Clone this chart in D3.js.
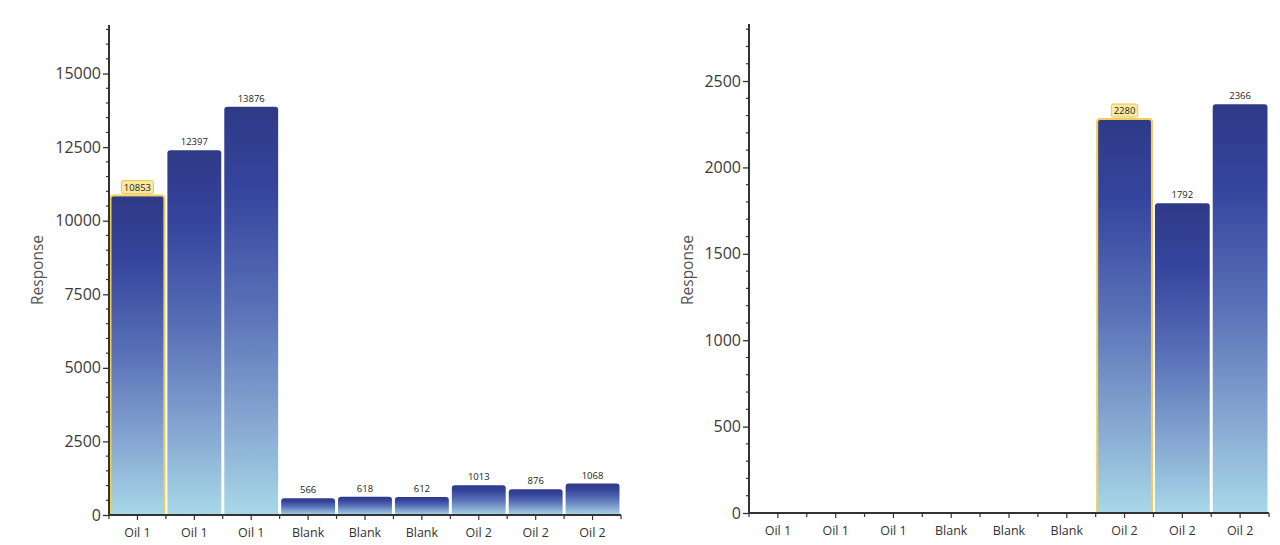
<!DOCTYPE html>
<html>
<head>
<meta charset="utf-8">
<script src="https://cdn.jsdelivr.net/npm/d3@7"></script>
<style>
  html, body { margin: 0; padding: 0; background: #fff; }
  svg { display: block; font-family: "Open Sans", "Noto Sans", sans-serif; }
</style>
</head>
<body>
<svg id="chart" width="1280" height="545"></svg>
<script>
// ---- data ----
const categories = ["Oil 1", "Oil 1", "Oil 1", "Blank", "Blank", "Blank", "Oil 2", "Oil 2", "Oil 2"];
const leftValues = [10853, 12397, 13876, 566, 618, 612, 1013, 876, 1068];
const rightValues = [null, null, null, null, null, null, 2280, 1792, 2366];
const leftTicks = [0, 2500, 5000, 7500, 10000, 12500, 15000];
const rightTicks = [0, 500, 1000, 1500, 2000, 2500];
const leftHighlight = 0;
const rightHighlight = 6;
const yTitle = "Response";

const svg = d3.select("#chart");
const defs = svg.append("defs");
const grad = defs.append("linearGradient")
  .attr("id", "barGrad").attr("x1", 0).attr("y1", 0).attr("x2", 0).attr("y2", 1);
[[0, "#2f3a86"], [0.2, "#35449d"], [0.5, "#5a72b8"], [0.78, "#87a9d2"], [1, "#a8d8e8"]]
  .forEach(([o, c]) => grad.append("stop").attr("offset", o).attr("stop-color", c));

function panel(cfg) {
  const g = svg.append("g");
  const x = d3.scaleBand().domain(d3.range(categories.length)).range([cfg.x0, cfg.x1]).padding(0);
  const y = d3.scaleLinear().domain([0, cfg.max]).range([cfg.y0, cfg.yTop]);

  // bars
  const data = cfg.values.map((v, i) => ({ v, i })).filter(d => d.v != null);
  const bars = g.append("g");
  data.forEach(d => {
    const bx = x(d.i) + 1.5, bw = x.bandwidth() - 3;
    const by = y(d.v), bh = y(0) - y(d.v);
    const r = Math.min(3, bh / 2);
    const p = `M${bx},${y(0)} V${by + r} Q${bx},${by} ${bx + r},${by} H${bx + bw - r} Q${bx + bw},${by} ${bx + bw},${by + r} V${y(0)} Z`;
    bars.append("path").attr("d", p).attr("fill", "url(#barGrad)")
      .attr("stroke", d.i === cfg.highlight ? "#f0cc5a" : "none")
      .attr("stroke-width", d.i === cfg.highlight ? 2 : 0);
  });

  // value labels
  data.forEach(d => {
    const cx = x(d.i) + x.bandwidth() / 2;
    const ty = y(d.v) - 5;
    if (d.i === cfg.highlight) {
      const w = String(d.v).length * 5.6 + 4;
      g.append("rect").attr("x", cx - w / 2).attr("y", ty - 10).attr("width", w).attr("height", 13)
        .attr("rx", 2).attr("fill", "#fbe9a0").attr("stroke", "#e9c55a").attr("stroke-width", 1);
    }
    g.append("text").attr("x", cx).attr("y", ty).attr("text-anchor", "middle")
      .attr("font-size", 9.5).attr("fill", "#222").text(d.v);
  });

  // y axis
  const yAxis = d3.axisLeft(y).tickValues(cfg.ticks).tickFormat(d3.format("d")).tickSize(6).tickPadding(2);
  const ya = g.append("g").attr("transform", `translate(${cfg.x0},0)`).call(yAxis);
  ya.select(".domain").remove();
  ya.selectAll(".tick line").attr("stroke", "#333").attr("stroke-width", 1.3);
  ya.selectAll(".tick text").attr("font-size", 16).attr("fill", "#3a3a3a")
    .attr("font-family", "'Open Sans', sans-serif");
  const minor = d3.range(0, cfg.max, cfg.minorStep).filter(v => !cfg.ticks.includes(v));
  g.append("g").selectAll("line").data(minor).join("line")
    .attr("x1", cfg.x0 - 3).attr("x2", cfg.x0).attr("y1", d => y(d)).attr("y2", d => y(d))
    .attr("stroke", "#333").attr("stroke-width", 1.2);
  g.append("line").attr("x1", cfg.x0).attr("x2", cfg.x0).attr("y1", cfg.yTop).attr("y2", cfg.y0 + 1)
    .attr("stroke", "#333").attr("stroke-width", 2);

  // x axis
  g.append("line").attr("x1", cfg.x0 - 1).attr("x2", cfg.x1).attr("y1", cfg.y0).attr("y2", cfg.y0)
    .attr("stroke", "#333").attr("stroke-width", 2);
  const bounds = d3.range(categories.length + 1).map(i => cfg.x0 + i * x.bandwidth());
  g.append("g").selectAll("line").data(bounds).join("line")
    .attr("x1", d => d).attr("x2", d => d).attr("y1", cfg.y0).attr("y2", cfg.y0 + 4)
    .attr("stroke", "#333").attr("stroke-width", 1.2);
  g.append("g").selectAll("line").data(d3.range(categories.length)).join("line")
    .attr("x1", i => x(i) + x.bandwidth() / 2).attr("x2", i => x(i) + x.bandwidth() / 2)
    .attr("y1", cfg.y0).attr("y2", cfg.y0 + 5)
    .attr("stroke", "#333").attr("stroke-width", 1.2);
  g.append("g").selectAll("text").data(categories).join("text")
    .attr("x", (d, i) => x(i) + x.bandwidth() / 2).attr("y", cfg.y0 + 22)
    .attr("text-anchor", "middle").attr("font-size", 12.5).attr("fill", "#333").text(d => d);

  // title
  g.append("text").attr("transform", `translate(${cfg.titleX},${cfg.titleY}) rotate(-90)`)
    .attr("text-anchor", "middle").attr("font-size", 15.5).attr("fill", "#555").text(yTitle);
}

panel({ values: leftValues, ticks: leftTicks, max: 16650, minorStep: 500, highlight: leftHighlight,
  x0: 109, x1: 621, y0: 515, yTop: 25, titleX: 43, titleY: 270 });
panel({ values: rightValues, ticks: rightTicks, max: 2830, minorStep: 100, highlight: rightHighlight,
  x0: 749, x1: 1269, y0: 513, yTop: 24, titleX: 693, titleY: 270 });
</script>
</body>
</html>
